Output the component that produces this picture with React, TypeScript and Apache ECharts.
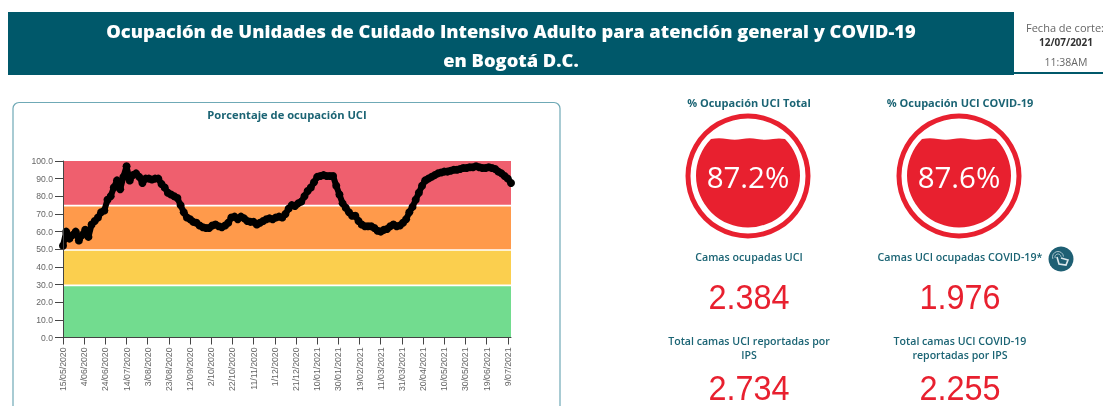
import React, { useEffect, useRef } from "react";
import * as echarts from "echarts";

// one reading every 3 days from 15/05/2020
const occupancy = [
  52, 60, 56, 58, 60, 55, 58, 61, 57, 64, 66, 68, 71, 72, 78, 80, 85, 89, 84, 91, 97,
  89, 92, 93, 91, 87.5, 90, 90, 89.5, 90, 90, 87, 85, 82, 81, 80, 79, 75, 71, 68, 67,
  65.5, 65, 63.5, 62.5, 62, 62, 63.5, 64, 63, 62.5, 63.5, 65, 68, 68.5, 67, 68.5, 67.5,
  66, 65.5, 65.5, 64, 65, 66, 67, 67.5, 67, 68, 68.5, 68, 70, 73, 75, 74.5, 76, 77,
  80, 83, 85, 88, 91, 91.5, 92, 91.5, 91.5, 91.5, 86, 81, 76, 73.5, 71, 69, 69, 66, 64,
  63, 63, 63, 62, 60.5, 60, 61, 61.5, 63, 64, 63, 63.5, 65, 67, 71, 74, 78, 82, 86, 89,
  90, 91, 92, 93, 93.5, 94, 94, 94.5, 95, 95, 95.5, 96, 96, 96.5, 96.5, 97, 96.5, 96,
  96, 96.5, 96, 95.5, 94, 93, 91.5, 90, 87.5,
];
const stepDays = 3;
const tickDays = [0, 20, 40, 60, 80, 100, 120, 140, 160, 180, 200, 220, 240, 260, 280, 300, 320, 340, 360, 380, 400, 420];
const tickLabels = [
  "15/05/2020", "4/06/2020", "24/06/2020", "14/07/2020", "3/08/2020", "23/08/2020", "12/09/2020", "2/10/2020",
  "22/10/2020", "11/11/2020", "1/12/2020", "21/12/2020", "10/01/2021", "30/01/2021", "19/02/2021", "11/03/2021",
  "31/03/2021", "20/04/2021", "10/05/2021", "30/05/2021", "19/06/2021", "9/07/2021",
];
const bands = [
  { from: 0, to: 29.1, color: "#72DC8F" },
  { from: 30, to: 49.2, color: "#FBCF4E" },
  { from: 50, to: 74.2, color: "#FF9A4B" },
  { from: 75.2, to: 100, color: "#EF5F6E" },
];
const gauges = [
  { label: "% Ocupación UCI Total", value: "87.2%" },
  { label: "% Ocupación UCI COVID-19", value: "87.6%" },
];
const occupiedLabels = ["Camas ocupadas UCI", "Camas UCI ocupadas COVID-19*"];
const occupiedValues = ["2.384", "1.976"];
const totalLabels = [
  "Total camas UCI reportadas por\nIPS",
  "Total camas UCI COVID-19\nreportadas por IPS",
];
const totalValues = ["2.734", "2.255"];

const TEAL = "#00586A";
const LABEL = "#1B6474";
const RED = "#E8202F";
const UI = '"Open Sans", "Noto Sans", sans-serif';
const NUM = '"Liberation Sans", sans-serif';

echarts.graphic.registerShape(
  "waterFill",
  echarts.graphic.extendPath(
    "M-37 -37 Q-29 -38.5 -21 -37 Q-13 -35.5 -6 -37 Q2 -38.5 9 -37 Q17 -35.5 25 -37 Q31 -38 37 -37 A52 52 0 1 1 -37 -37 Z",
    {}
  )
);

const text = (x: number, y: number, t: string, font: string, fill: string, extra: any = {}, el: any = {}) => ({
  type: "text",
  x,
  y,
  z: 20,
  silent: true,
  ...el,
  style: { text: t, font, fill, align: "center", verticalAlign: "middle", ...extra },
});

export default function App() {
  const ref = useRef<HTMLDivElement>(null);
  useEffect(() => {
    document.body.style.margin = "0";
    document.body.style.background = "#fff";
    const chart = echarts.init(ref.current!, undefined, { renderer: "svg" });
    const centers = [748, 959];
    const graphic: any[] = [
      { type: "rect", shape: { x: 8, y: 12, width: 1006, height: 63 }, style: { fill: TEAL } },
      { type: "rect", shape: { x: 1014, y: 72, width: 89, height: 2 }, style: { fill: TEAL } },
      text(511, 30, "Ocupación de Unidades de Cuidado Intensivo Adulto para atención general y COVID-19", `800 18.3px ${UI}`, "#fff"),
      text(511, 59, "en Bogotá D.C.", `800 18.3px ${UI}`, "#fff"),
      text(1065, 27, "Fecha de corte:", `400 11px ${UI}`, "#666"),
      text(1066, 42, "12/07/2021", `700 10px ${UI}`, "#333"),
      text(1066, 62, "11:38AM", `400 10.5px ${UI}`, "#666"),
      {
        type: "rect",
        shape: { x: 13, y: 102.5, width: 547, height: 320, r: 6 },
        style: { fill: "#fff", stroke: "#6FA9B6", lineWidth: 1.2 },
        z: -1,
      },
      text(287, 114, "Porcentaje de ocupación UCI", `700 11.2px ${UI}`, LABEL),
    ];
    centers.forEach((cx, i) => {
      graphic.push(
        text(cx + 1, 102, gauges[i].label, `700 11px ${UI}`, LABEL),
        { type: "ring", shape: { cx, cy: 176, r: 62.5, r0: 57.5 }, style: { fill: RED } },
        { type: "waterFill", x: cx, y: 176, style: { fill: RED } },
        text(cx, 176, gauges[i].value, `400 29.5px ${UI}`, "#fff"),
        text(cx + 1, 257, occupiedLabels[i], `600 10.7px ${UI}`, LABEL),
        text(cx + 1, 296, occupiedValues[i], `400 36px ${NUM}`, RED, {}, { scaleX: 0.9 }),
        text(cx + 1, 348, totalLabels[i], `600 10.6px ${UI}`, LABEL, { lineHeight: 14 }),
        text(cx + 1, 387, totalValues[i], `400 36px ${NUM}`, RED, {}, { scaleX: 0.9 })
      );
    });
    graphic.push(
      { type: "circle", shape: { cx: 1061, cy: 259, r: 12.5 }, style: { fill: "#1E5F73" } },
      { type: "arc", shape: { cx: 1058, cy: 257, r: 5.5, startAngle: 2.8, endAngle: 6.2 }, style: { stroke: "#A9C4CD", lineWidth: 1, fill: "none" } },
      { type: "arc", shape: { cx: 1058, cy: 257, r: 3, startAngle: 2.8, endAngle: 6.2 }, style: { stroke: "#A9C4CD", lineWidth: 1, fill: "none" } },
      { type: "polyline", shape: { points: [[1057, 257], [1059, 264], [1066, 265], [1068, 260], [1061, 258]] } as any, style: { stroke: "#DCE8EC", lineWidth: 1.6, fill: "none" } }
    );

    chart.setOption({
      animation: false,
      graphic: { elements: graphic },
      grid: { left: 63, top: 161, width: 448, height: 176.5, containLabel: false },
      xAxis: {
        type: "value",
        min: 0,
        max: 423,
        z: 10,
        splitLine: { show: false },
        axisLine: { lineStyle: { color: "#444", width: 1 } },
        axisTick: { show: true, length: 7, customValues: tickDays, lineStyle: { color: "#444" } },
        axisLabel: {
          customValues: tickDays,
          rotate: 90,
          fontSize: 8.7,
          margin: 10,
          color: "#666",
          fontFamily: '"Liberation Sans", sans-serif',
          formatter: (v: number) => tickLabels[tickDays.indexOf(v)] ?? "",
        },
      },
      yAxis: {
        type: "value",
        min: 0,
        max: 100,
        interval: 10,
        z: 10,
        splitLine: { show: false },
        axisLine: { show: true, lineStyle: { color: "#444", width: 1 } },
        axisTick: { show: true, length: 8, lineStyle: { color: "#444" } },
        axisLabel: {
          fontSize: 8.6,
          margin: 10,
          color: "#666",
          fontFamily: '"Liberation Sans", sans-serif',
          formatter: (v: number) => v.toFixed(1),
        },
      },
      series: [
        {
          type: "line",
          z: 1,
          data: [],
          silent: true,
          markArea: {
            silent: true,
            data: bands.map((b) => [
              { yAxis: b.from, itemStyle: { color: b.color, opacity: 1 } },
              { yAxis: b.to },
            ]),
          },
        },
        {
          type: "line",
          z: 5,
          data: occupancy.map((v, i) => [i * stepDays, v]),
          symbol: "circle",
          symbolSize: 8,
          showAllSymbol: true,
          clip: true,
          lineStyle: { color: "#000", width: 6 },
          itemStyle: { color: "#000" },
        },
      ],
    });
    return () => chart.dispose();
  }, []);
  return <div ref={ref} style={{ width: 1103, height: 406, overflow: "hidden", filter: "blur(0.4px)" }} />;
}
